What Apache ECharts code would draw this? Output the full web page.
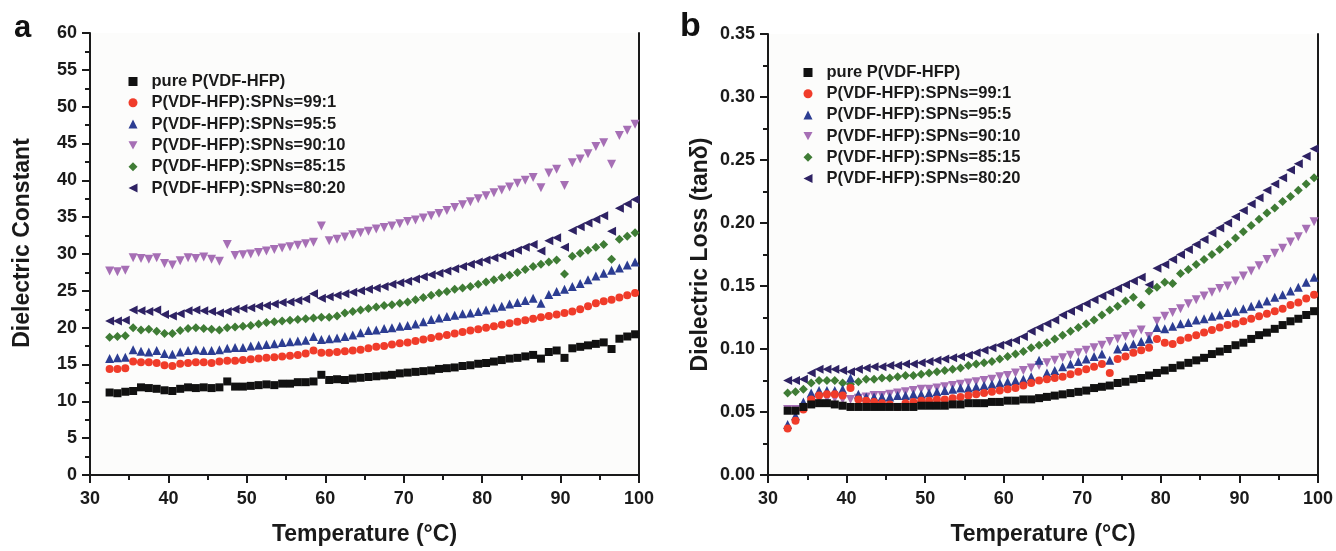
<!DOCTYPE html>
<html>
<head>
<meta charset="utf-8">
<script src="https://cdn.jsdelivr.net/npm/echarts@6/dist/echarts.min.js"></script>
<style>
html,body{margin:0;padding:0;background:#ffffff;}
#chart{width:1336px;height:551px;}
</style>
</head>
<body>
<div id="chart"></div>
<script>
// ---------- data ----------
const seriesNames = ['pure P(VDF-HFP)','P(VDF-HFP):SPNs=99:1','P(VDF-HFP):SPNs=95:5','P(VDF-HFP):SPNs=90:10','P(VDF-HFP):SPNs=85:15','P(VDF-HFP):SPNs=80:20'];
const temperature = [32.5,33.5,34.5,35.5,36.5,37.5,38.5,39.5,40.5,41.5,
  42.5,43.5,44.5,45.5,46.5,47.5,48.5,49.5,50.5,51.5,
  52.5,53.5,54.5,55.5,56.5,57.5,58.5,59.5,60.5,61.5,
  62.5,63.5,64.5,65.5,66.5,67.5,68.5,69.5,70.5,71.5,
  72.5,73.5,74.5,75.5,76.5,77.5,78.5,79.5,80.5,81.5,
  82.5,83.5,84.5,85.5,86.5,87.5,88.5,89.5,90.5,91.5,
  92.5,93.5,94.5,95.5,96.5,97.5,98.5,99.5];

// Dielectric constant (panel a)
const dcPure = [11.2,11.1,11.3,11.4,11.9,11.8,11.7,11.5,11.4,11.7,
  11.9,11.8,11.9,11.8,11.9,12.7,12.0,12.0,12.1,12.2,
  12.3,12.2,12.4,12.4,12.6,12.6,12.7,13.6,12.9,13.0,
  12.9,13.1,13.2,13.3,13.4,13.5,13.6,13.8,13.9,14.0,
  14.1,14.2,14.4,14.5,14.6,14.8,14.9,15.1,15.2,15.4,
  15.6,15.8,15.9,16.1,16.3,15.8,16.7,16.9,15.9,17.2,
  17.4,17.6,17.8,18.0,17.1,18.5,18.8,19.1];
const dc99 = [14.4,14.4,14.5,15.4,15.3,15.3,15.2,14.9,14.8,15.1,
  15.2,15.3,15.3,15.2,15.4,15.5,15.5,15.6,15.7,15.8,
  15.9,16.0,16.1,16.2,16.3,16.5,16.9,16.6,16.6,16.7,
  16.8,16.9,17.0,17.2,17.4,17.5,17.7,17.9,18.0,18.2,
  18.4,18.6,18.8,19.0,19.2,19.4,19.6,19.8,20.0,20.2,
  20.4,20.6,20.8,21.0,21.2,21.4,21.6,21.8,22.0,22.2,
  22.5,22.9,23.3,23.6,23.8,24.1,24.4,24.7];
const dc95 = [15.8,15.9,16.0,17.0,16.8,16.7,16.9,16.5,16.4,16.7,
  16.9,17.0,16.9,16.9,17.0,17.2,17.3,17.3,17.5,17.6,
  17.7,17.8,18.0,18.1,18.2,18.3,18.8,18.4,18.5,18.6,
  18.8,19.0,19.3,19.6,19.7,19.9,20.0,20.2,20.3,20.5,
  20.8,21.1,21.3,21.5,21.7,21.9,22.0,22.2,22.4,22.7,
  22.9,23.2,23.4,23.7,24.0,23.3,24.5,24.9,25.2,25.6,
  26.0,26.5,27.0,27.4,27.8,28.1,28.5,28.9];
const dc90 = [27.7,27.6,27.8,29.5,29.4,29.3,29.5,28.7,28.5,29.1,
  29.5,29.4,29.6,29.3,29.0,31.3,29.8,29.9,30.0,30.2,
  30.4,30.6,30.8,31.0,31.2,31.4,31.6,33.8,31.8,32.0,
  32.3,32.6,32.9,33.1,33.4,33.6,33.8,34.1,34.4,34.6,
  34.9,35.2,35.5,35.9,36.3,36.7,37.1,37.5,37.9,38.3,
  38.7,39.1,39.6,40.0,40.4,39.0,41.0,41.5,39.3,42.4,
  42.9,43.6,44.6,45.1,42.2,46.1,46.8,47.6];
const dc85 = [18.7,18.8,18.9,20.0,19.7,19.8,19.5,19.2,19.2,19.6,
  19.9,20.0,19.9,19.8,19.7,20.0,20.1,20.2,20.3,20.5,
  20.7,20.8,20.9,21.0,21.1,21.2,21.3,21.4,21.4,21.6,
  22.0,22.2,22.4,22.6,22.8,23.0,23.1,23.3,23.5,23.8,
  24.1,24.4,24.7,24.9,25.2,25.4,25.6,25.9,26.2,26.5,
  26.8,27.1,27.5,27.9,28.3,28.6,28.9,29.2,27.3,29.7,
  30.1,30.5,30.9,31.3,29.3,32.0,32.4,32.9];
const dc80 = [20.9,20.9,21.0,22.4,22.3,22.2,22.4,21.8,21.6,21.9,
  22.3,22.4,22.3,22.2,22.0,22.2,22.5,22.6,22.7,22.9,
  23.0,23.2,23.4,23.5,23.7,23.9,24.6,24.0,24.2,24.4,
  24.6,24.8,25.0,25.2,25.4,25.6,25.9,26.1,26.3,26.6,
  26.9,27.2,27.4,27.7,28.0,28.3,28.6,28.9,29.2,29.5,
  29.8,30.1,30.5,30.9,31.3,30.4,31.8,32.2,30.9,33.2,
  33.7,34.2,34.7,35.2,33.1,36.2,36.8,37.4];

// Dielectric loss tan(delta) (panel b)
const lossPure = [0.051,0.051,0.054,0.056,0.057,0.057,0.056,0.055,0.054,0.054,
  0.054,0.054,0.054,0.054,0.054,0.054,0.054,0.055,0.055,0.055,
  0.055,0.056,0.056,0.057,0.057,0.057,0.058,0.058,0.059,0.059,
  0.060,0.060,0.061,0.062,0.063,0.064,0.065,0.066,0.067,0.069,
  0.070,0.071,0.073,0.074,0.076,0.077,0.079,0.081,0.083,0.085,
  0.087,0.089,0.091,0.093,0.096,0.098,0.100,0.103,0.105,0.108,
  0.111,0.113,0.116,0.119,0.122,0.124,0.127,0.130];
const loss99 = [0.037,0.043,0.052,0.060,0.063,0.064,0.064,0.063,0.069,0.060,
  0.059,0.058,0.057,0.056,0.054,0.057,0.058,0.059,0.059,0.060,
  0.060,0.061,0.062,0.063,0.064,0.065,0.066,0.067,0.068,0.069,
  0.071,0.073,0.075,0.076,0.077,0.078,0.080,0.082,0.084,0.086,
  0.088,0.081,0.092,0.094,0.097,0.099,0.101,0.108,0.105,0.104,
  0.107,0.109,0.111,0.113,0.115,0.117,0.119,0.120,0.122,0.124,
  0.126,0.128,0.130,0.132,0.135,0.137,0.140,0.143];
const loss95 = [0.040,0.047,0.058,0.065,0.067,0.067,0.067,0.068,0.077,0.064,
  0.062,0.062,0.062,0.062,0.063,0.063,0.064,0.064,0.065,0.066,
  0.067,0.068,0.069,0.069,0.070,0.071,0.072,0.073,0.074,0.075,
  0.076,0.078,0.091,0.081,0.083,0.086,0.088,0.090,0.092,0.094,
  0.096,0.091,0.100,0.102,0.104,0.106,0.108,0.117,0.116,0.118,
  0.120,0.121,0.123,0.124,0.126,0.127,0.129,0.130,0.132,0.134,
  0.136,0.138,0.141,0.143,0.146,0.149,0.153,0.157];
const loss90 = [0.052,0.052,0.053,0.058,0.061,0.061,0.061,0.060,0.060,0.061,
  0.062,0.063,0.063,0.064,0.065,0.066,0.067,0.068,0.068,0.069,
  0.070,0.071,0.072,0.073,0.074,0.075,0.076,0.078,0.079,0.081,
  0.083,0.085,0.087,0.089,0.091,0.093,0.095,0.097,0.099,0.101,
  0.103,0.106,0.108,0.110,0.112,0.115,0.110,0.122,0.126,0.129,
  0.132,0.136,0.139,0.142,0.145,0.148,0.150,0.154,0.158,0.162,
  0.166,0.171,0.176,0.180,0.185,0.189,0.195,0.201];
const loss85 = [0.065,0.066,0.068,0.073,0.075,0.075,0.075,0.073,0.072,0.074,
  0.076,0.076,0.077,0.077,0.078,0.079,0.079,0.080,0.081,0.082,
  0.083,0.084,0.085,0.087,0.088,0.089,0.090,0.092,0.094,0.096,
  0.098,0.101,0.103,0.105,0.108,0.111,0.114,0.117,0.120,0.123,
  0.127,0.131,0.134,0.138,0.141,0.135,0.146,0.149,0.153,0.152,
  0.160,0.163,0.167,0.171,0.175,0.179,0.183,0.188,0.193,0.198,
  0.203,0.208,0.212,0.217,0.221,0.226,0.231,0.236];
const loss80 = [0.075,0.075,0.076,0.081,0.084,0.084,0.084,0.083,0.082,0.084,
  0.085,0.086,0.086,0.087,0.087,0.088,0.088,0.089,0.090,0.091,
  0.092,0.093,0.094,0.095,0.097,0.099,0.101,0.103,0.105,0.107,
  0.110,0.114,0.117,0.120,0.123,0.127,0.130,0.133,0.136,0.139,
  0.142,0.145,0.148,0.151,0.154,0.157,0.151,0.164,0.167,0.171,
  0.175,0.179,0.183,0.187,0.192,0.196,0.200,0.205,0.210,0.215,
  0.220,0.226,0.231,0.236,0.242,0.247,0.253,0.259];

// ---------- styles ----------
const colors = ['#111111','#f03c2a','#2c3d92','#a66fb5','#3f7c35','#2e2263'];
const symbols = ['rect','circle','triangle','path://M0,0 L10,0 L5,9 Z','diamond','path://M10,0 L10,10 L0,5 Z'];
const sizes = [8,8,9,9,9,9];
const FONT = "'Liberation Sans', Arial, Helvetica, sans-serif";

const dcSets = [dcPure, dc99, dc95, dc90, dc85, dc80];
const lossSets = [lossPure, loss99, loss95, loss90, loss85, loss80];

function pair(arr){ return temperature.map((t,i)=>[t, arr[i]]); }

const series = [];
seriesNames.forEach((name,k)=>{
  series.push({name, type:'scatter', xAxisIndex:0, yAxisIndex:0, data:pair(dcSets[k]),
    symbol:symbols[k], symbolSize:sizes[k], itemStyle:{color:colors[k], opacity:1}, z: 10-k, silent:true});
});
seriesNames.forEach((name,k)=>{
  series.push({name, type:'scatter', xAxisIndex:2, yAxisIndex:2, data:pair(lossSets[k]),
    symbol:symbols[k], symbolSize:sizes[k], itemStyle:{color:colors[k], opacity:1}, z: 10-k, silent:true});
});

const axisLineStyle = {show:true, lineStyle:{color:'#1a1a1a', width:2}};
const labelStyle = {color:'#1a1a1a', fontSize:18, fontWeight:'bold', fontFamily:FONT};
const nameStyle = {color:'#1a1a1a', fontSize:23, fontWeight:'bold', fontFamily:FONT};

function mainX(grid){
  return {type:'value', gridIndex:grid, min:30, max:100, interval:10, position:'bottom',
    name:'Temperature (°C)', nameLocation:'middle', nameGap:48, nameTextStyle:nameStyle,
    axisLine:axisLineStyle,
    axisTick:{show:true, inside:false, length:8, lineStyle:{color:'#1a1a1a', width:2}},
    minorTick:{show:true, splitNumber:2, length:5, lineStyle:{color:'#1a1a1a', width:2}},
    axisLabel:Object.assign({margin:15}, labelStyle),
    splitLine:{show:false}};
}
function frameX(grid){
  return {type:'value', gridIndex:grid, min:30, max:100, position:'top',
    axisLine:axisLineStyle, axisTick:{show:false}, axisLabel:{show:false}, splitLine:{show:false}};
}
function mainY(grid, max, interval, name, fmt, namePad){
  return {type:'value', gridIndex:grid, min:0, max:max, interval:interval, position:'left',
    name:name, nameLocation:'middle', nameGap:56,
    nameTextStyle:Object.assign({padding:namePad}, nameStyle),
    axisLine:axisLineStyle,
    axisTick:{show:true, inside:false, length:8, lineStyle:{color:'#1a1a1a', width:2}},
    minorTick:{show:true, splitNumber:2, length:5, lineStyle:{color:'#1a1a1a', width:2}},
    axisLabel:Object.assign({margin:13, formatter:fmt}, labelStyle),
    splitLine:{show:false}};
}
function frameY(grid, max){
  return {type:'value', gridIndex:grid, min:0, max:max, position:'right',
    axisLine:axisLineStyle, axisTick:{show:false}, axisLabel:{show:false}, splitLine:{show:false}};
}

const legendText = {color:'#1a1a1a', fontSize:16.5, fontWeight:'bold', fontFamily:FONT, lineHeight:14, padding:[0,0,0,9]};

const option = {
  backgroundColor:'#ffffff',
  animation:false,
  grid:[
    {left:90, top:33, width:549, height:446, backgroundColor:'#fcfcfb', show:true, borderWidth:0},
    {left:768, top:34, width:550, height:446, backgroundColor:'#fcfcfb', show:true, borderWidth:0}
  ],
  xAxis:[ mainX(0), frameX(0), mainX(1), frameX(1) ],
  yAxis:[
    mainY(0, 60, 5, 'Dielectric Constant', v=>String(v), [0,0,0,22]),
    frameY(0, 60),
    mainY(1, 0.35, 0.05, 'Dielectric Loss (tanδ)', v=>v.toFixed(2), [0,0,0,0]),
    frameY(1, 0.35)
  ],
  legend:[
    {orient:'vertical', left:123.5, top:68, itemWidth:9, itemHeight:9, itemGap:4.3,
     textStyle:legendText, data:seriesNames, selectedMode:false},
    {orient:'vertical', left:798.5, top:59, itemWidth:9, itemHeight:9, itemGap:4.2,
     textStyle:legendText, data:seriesNames, selectedMode:false}
  ],
  graphic:[
    {type:'text', left:14, top:13, style:{text:'a', font:"bold 31px 'Liberation Sans', Arial, sans-serif", fill:'#111'}},
    {type:'text', left:680, top:10, style:{text:'b', font:"bold 34px 'Liberation Sans', Arial, sans-serif", fill:'#111'}}
  ],
  series:series
};

const chart = echarts.init(document.getElementById('chart'), null, {renderer:'canvas'});
chart.setOption(option);
</script>
</body>
</html>
